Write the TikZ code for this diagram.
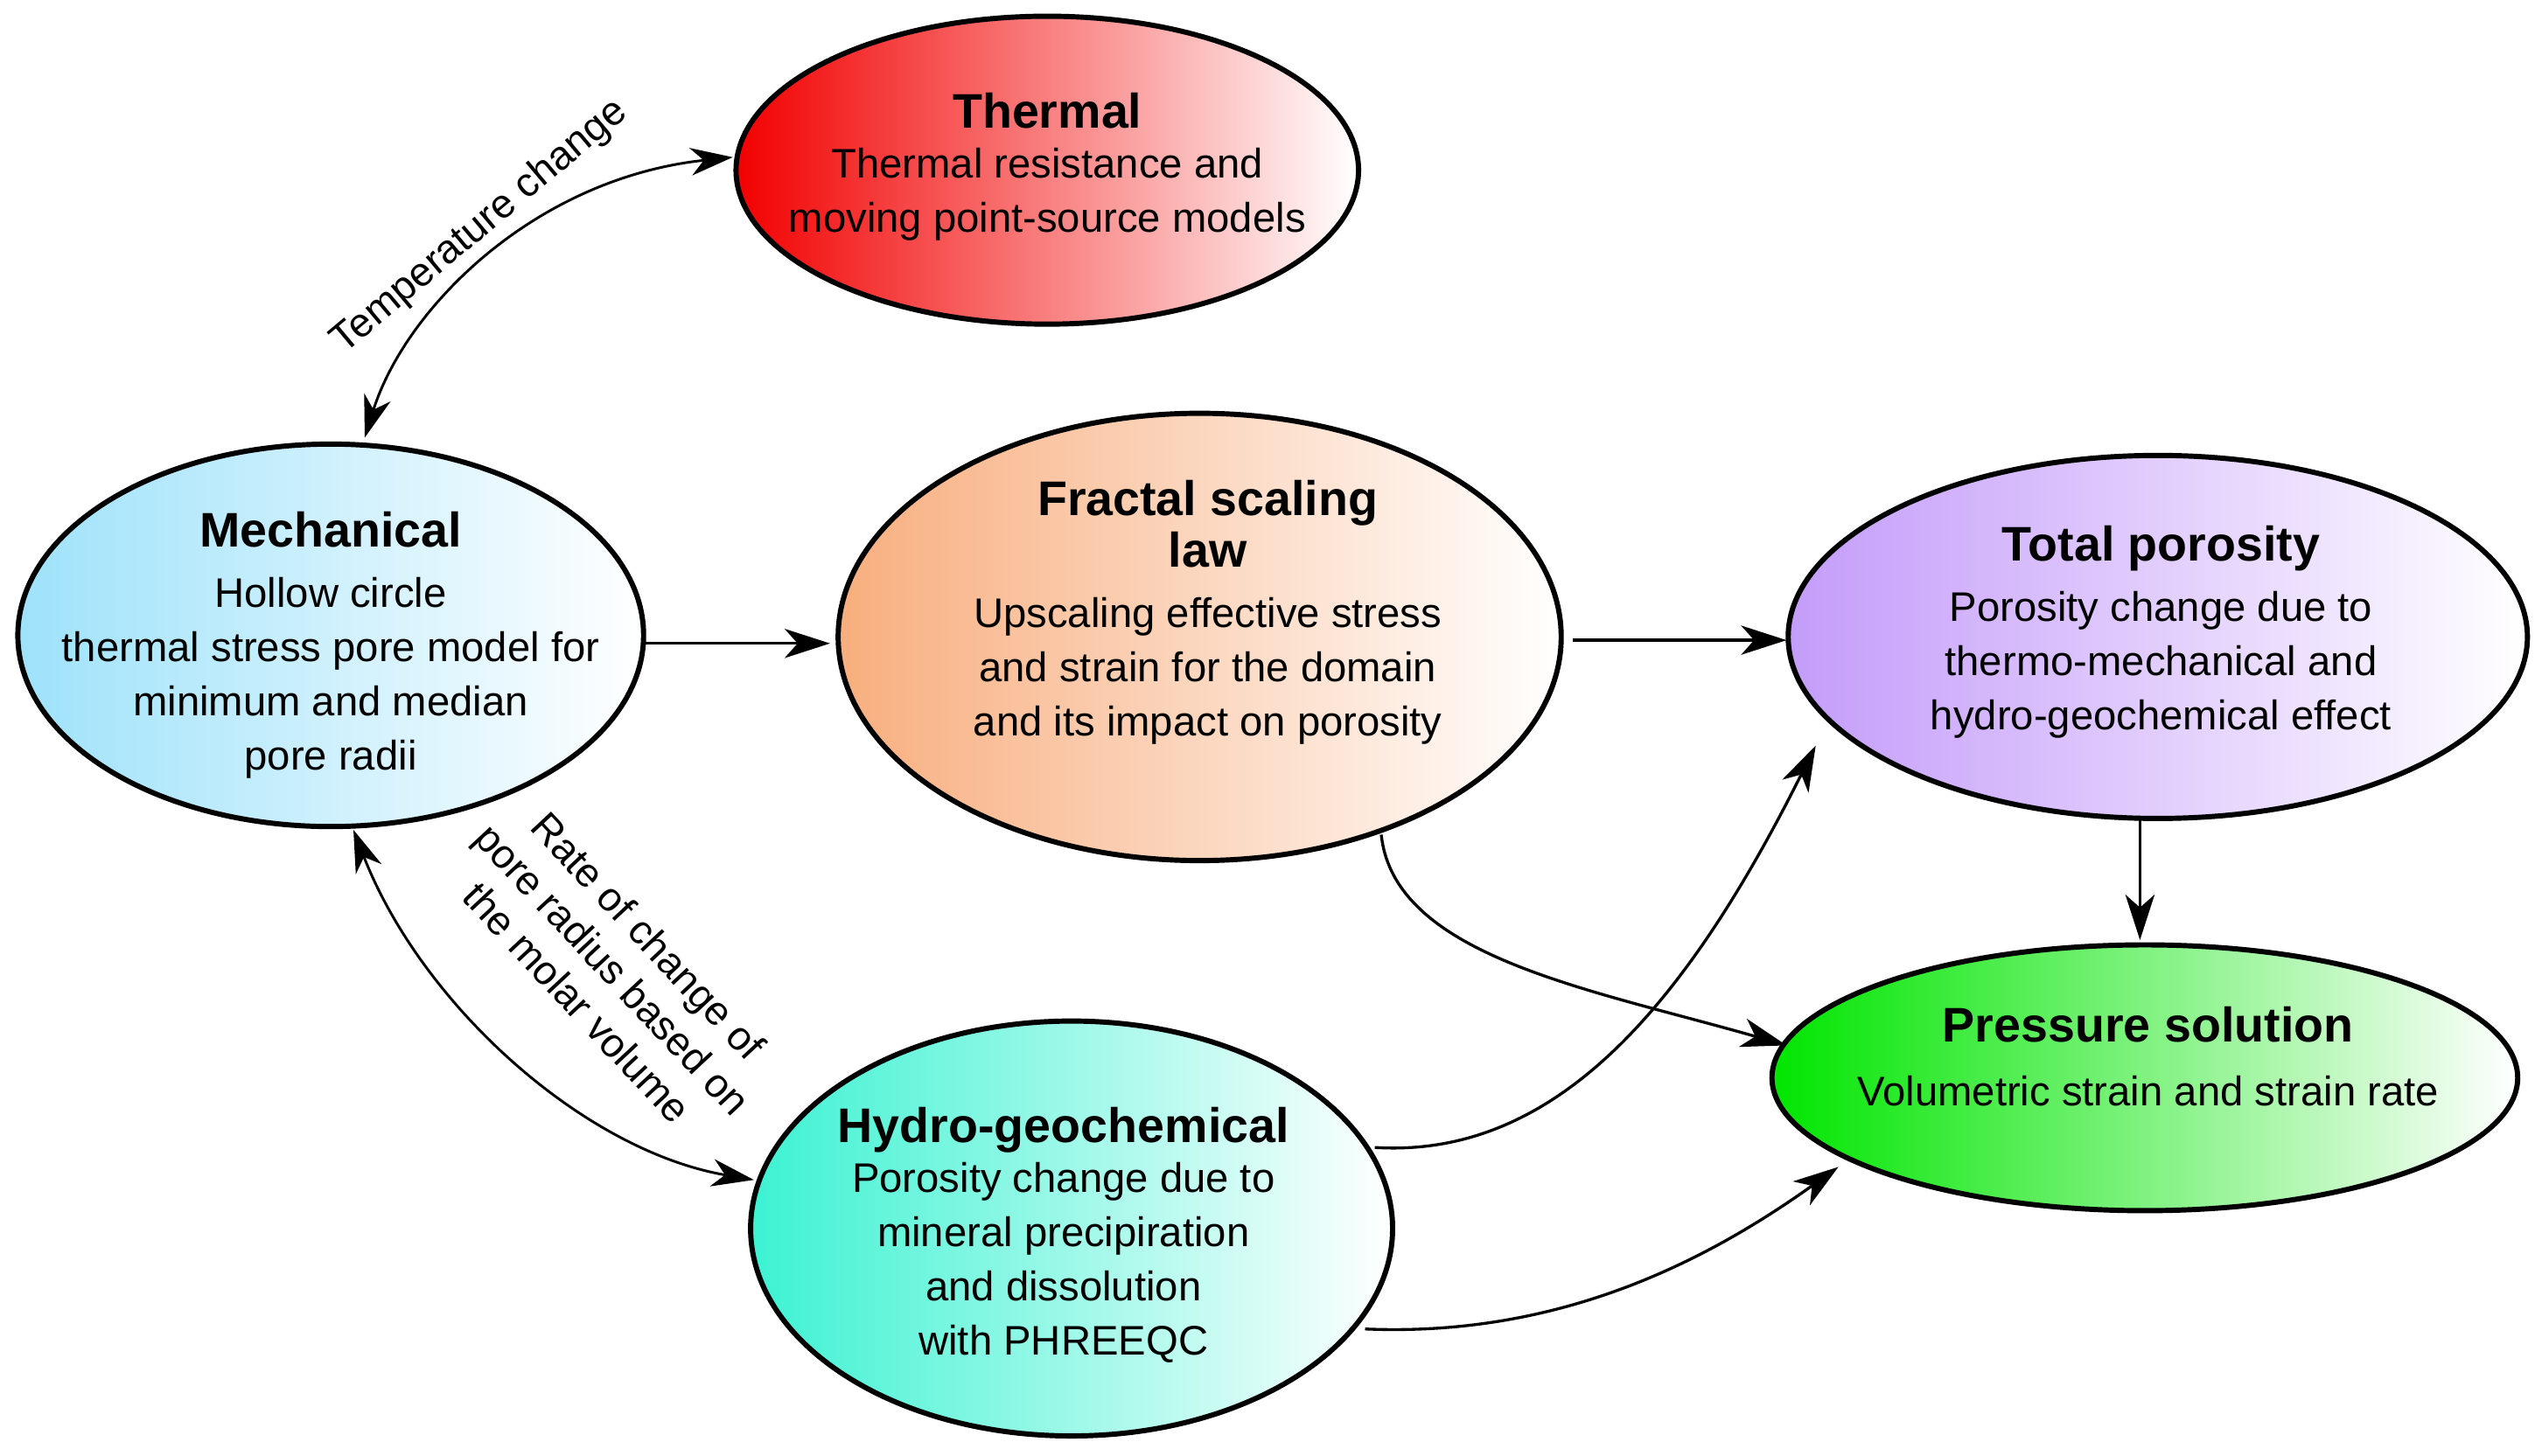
\documentclass[tikz,border=0pt]{standalone}
\usepackage{fontspec}
\setmainfont{Liberation Sans}
\usetikzlibrary{shapes.geometric,arrows.meta}
\newcommand{\ttlx}[1]{{\fontsize{30}{40}\selectfont\bfseries #1}}
\definecolor{vio}{HTML}{C49CFA}
\definecolor{aqu}{HTML}{3CF2D2}
\definecolor{skb}{HTML}{9EE2FA}
\definecolor{orn}{HTML}{F8AE7E}
\begin{document}
\begin{tikzpicture}[x=1pt,y=-1pt,
 el/.style={ellipse,draw=black,line width=3.2pt,inner sep=0pt,right color=white},
 tx/.style={align=center,font=\fontsize{25.5}{33.5}\selectfont,inner sep=0pt},
 ar/.style={-{Stealth[length=28pt,width=18pt,inset=8pt]},line width=1.8pt},
 dar/.style={{Stealth[length=26pt,width=17pt,inset=8pt]}-{Stealth[length=26pt,width=17pt,inset=8pt]},line width=1.6pt},
 lab/.style={font=\fontsize{25}{30}\selectfont,align=center}]
\fill[white] (0,0) rectangle (1568,898);
\node[el,left color=red!95!black,minimum width=384pt,minimum height=190pt] (th) at (646,105) {};
\node[tx] (tht) at (646,103) {\ttlx{Thermal}\\[-3pt]Thermal resistance and\\moving point-source models};
\node[el,left color=skb,minimum width=386pt,minimum height=236pt] (me) at (204,392) {};
\node[tx] (met) at (204,398) {\ttlx{Mechanical}\\[4pt]Hollow circle\\thermal stress pore model for\\minimum and median\\pore radii};
\node[el,left color=orn,minimum width=446pt,minimum height=276pt] (fr) at (740,393) {};
\node[tx] (frt) at (745,378) {\ttlx{Fractal scaling}\\[-2pt]\ttlx{law}\\[4pt]Upscaling effective stress\\and strain for the domain\\and its impact on porosity};
\node[el,left color=vio,minimum width=456pt,minimum height=224pt] (tp) at (1331,393) {};
\node[tx] (tpt) at (1333,390) {\ttlx{Total porosity}\\[4pt]Porosity change due to\\thermo-mechanical and\\hydro-geochemical effect};
\node[el,left color=green!90!black,minimum width=460pt,minimum height=164pt] (ps) at (1323,665) {};
\node[tx] (pst) at (1325,652) {\ttlx{Pressure solution}\\[6pt]Volumetric strain and strain rate};
\node[el,left color=aqu,minimum width=396pt,minimum height=256pt] (hg) at (661,758) {};
\node[tx] (hgt) at (656,762) {\ttlx{Hydro-geochemical}\\[-3pt]Porosity change due to\\mineral precipiration\\and dissolution\\with PHREEQC};
\coordinate (a1) at (225,270); \coordinate (a2) at (452,97);
\draw[dar] (a1) .. controls (250,190) and (330,110) .. (a2);
\node[lab,rotate=40] (l1) at (296,140) {Temperature change};
\coordinate (m1) at (398,397); \coordinate (m2) at (512,397);
\draw[ar] (m1) -- (m2);
\coordinate (f1) at (970,395); \coordinate (f2) at (1102,395);
\draw[ar] (f1) -- (f2);
\coordinate (t1) at (1320,506); \coordinate (t2) at (1320,580);
\draw[ar] (t1) -- (t2);
\coordinate (b1) at (852,515); \coordinate (b2) at (1102,645);
\draw[ar] (b1) .. controls (860,590) and (980,610) .. (b2);
\coordinate (c1) at (848,708); \coordinate (c2) at (1120,460);
\draw[ar] (c1) .. controls (960,715) and (1040,620) .. (c2);
\coordinate (d1) at (842,820); \coordinate (d2) at (1134,720);
\draw[ar] (d1) .. controls (960,825) and (1050,780) .. (d2);
\coordinate (e1) at (218,512); \coordinate (e2) at (465,728);
\draw[dar] (e1) .. controls (260,620) and (360,710) .. (e2);
\node[lab,rotate=-47] (l2) at (378,598) {Rate of change of\\pore radius based on\\the molar volume};
\end{tikzpicture}
\end{document}
